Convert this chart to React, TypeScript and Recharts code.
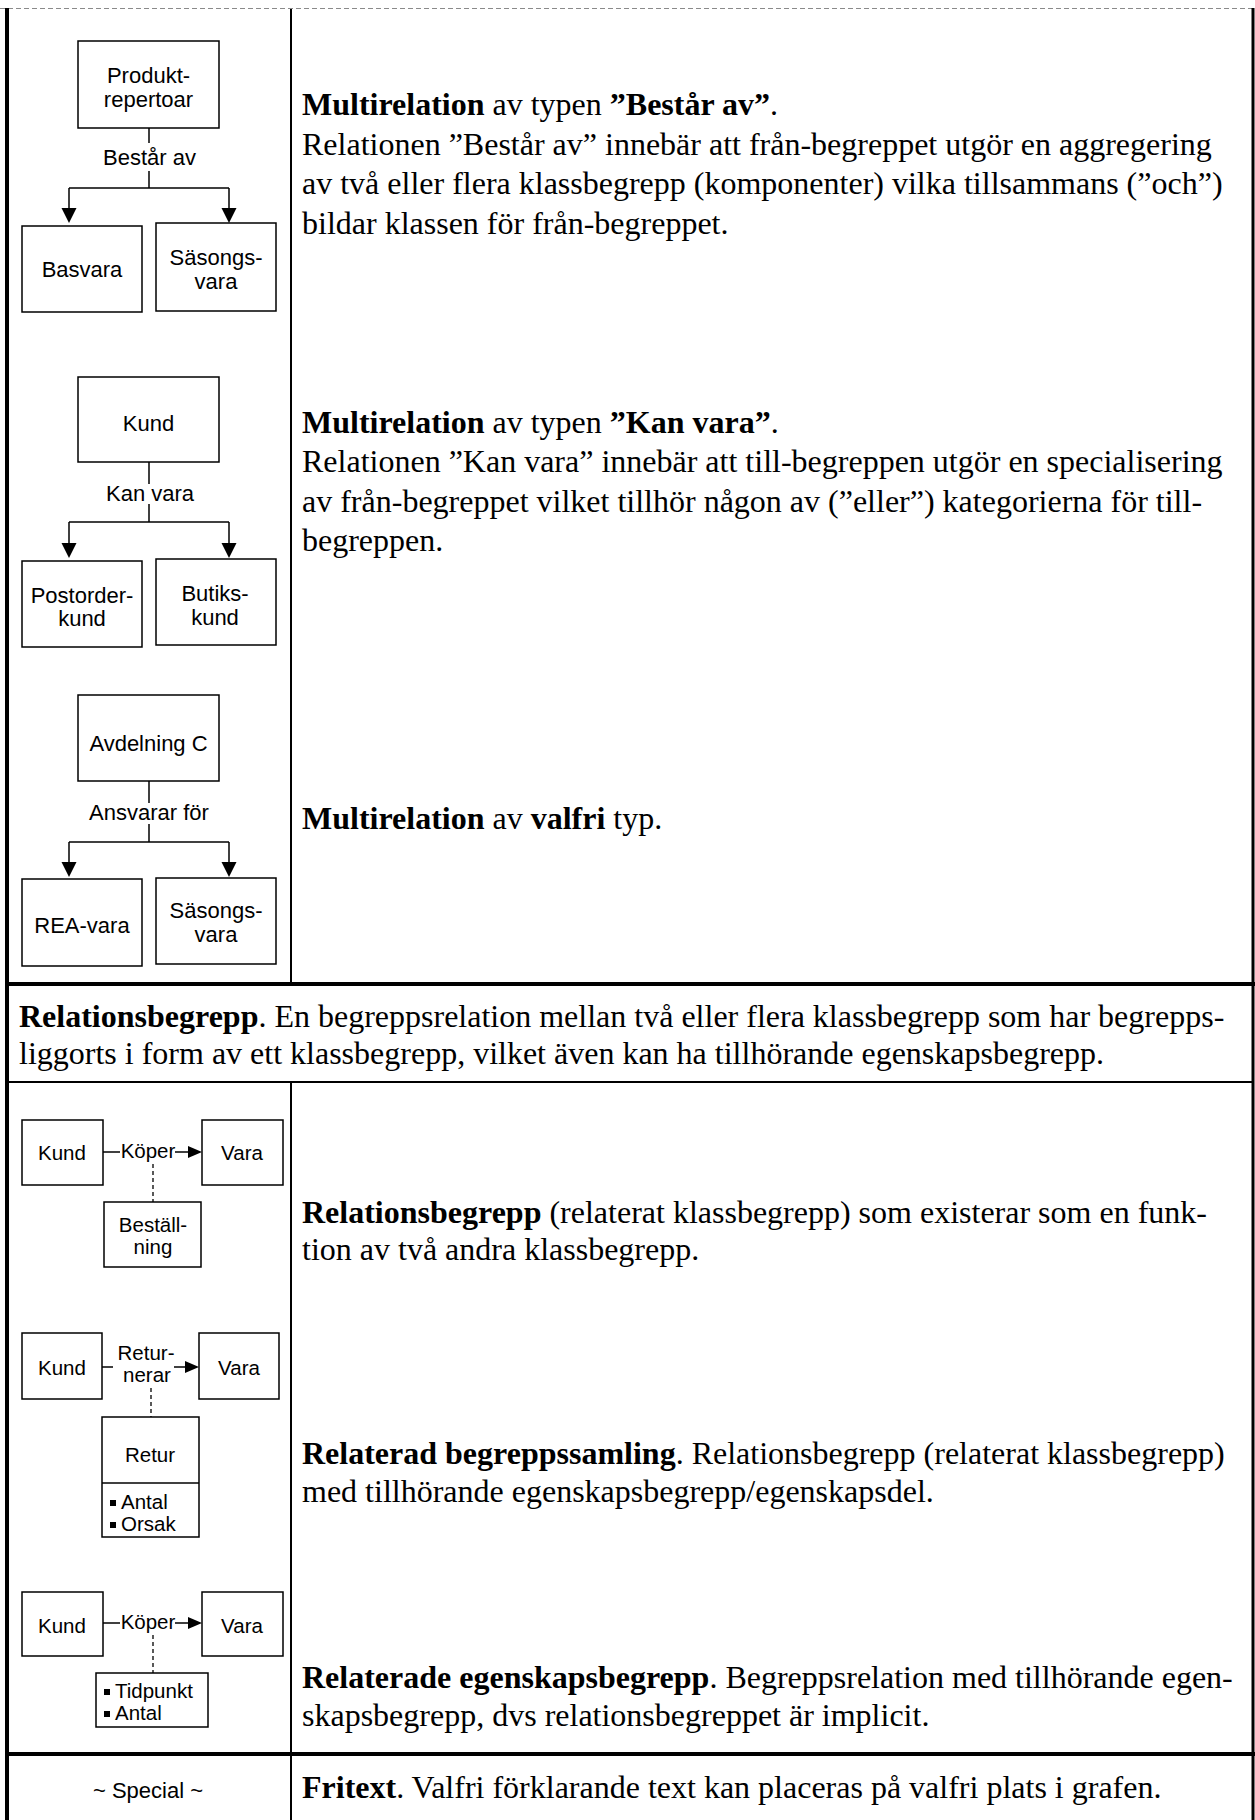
import {
  ComposedChart,
  XAxis,
  YAxis,
  Scatter,
  ReferenceArea,
  ReferenceLine,
} from "recharts";

const W = 1255;
const H = 1820;
const SANS = "'Liberation Sans', Arial, sans-serif";
const SERIF = "'Liberation Serif', 'Times New Roman', serif";

// table rules, page units
const heavyRules = [
  [[7, 8], [7, 1820]],
  [[5, 984], [1255, 984]],
  [[5, 1754], [1255, 1754]],
];
const frameRules = [[[1253, 8], [1253, 1820]]];
const lightRules = [
  [[291, 9], [291, 982]],
  [[291, 1083], [291, 1752]],
  [[291, 1756], [291, 1820]],
  [[9, 1082], [1252, 1082]],
];
const topRule = [[0, 8.5], [1255, 8.5]];

// boxes of the small diagrams
const boxes = [
  { x1: 78, x2: 219, y1: 41, y2: 128 },
  { x1: 22, x2: 142, y1: 226, y2: 312 },
  { x1: 156, x2: 276, y1: 223, y2: 311 },
  { x1: 78, x2: 219, y1: 377, y2: 462 },
  { x1: 22, x2: 142, y1: 561, y2: 647 },
  { x1: 156, x2: 276, y1: 559, y2: 645 },
  { x1: 78, x2: 219, y1: 695, y2: 781 },
  { x1: 22, x2: 142, y1: 879, y2: 966 },
  { x1: 156, x2: 276, y1: 878, y2: 964 },
  { x1: 22, x2: 103, y1: 1120, y2: 1185 },
  { x1: 202, x2: 283, y1: 1120, y2: 1185 },
  { x1: 104, x2: 201, y1: 1202, y2: 1267 },
  { x1: 22, x2: 102, y1: 1333, y2: 1399 },
  { x1: 199, x2: 279, y1: 1333, y2: 1399 },
  { x1: 102, x2: 199, y1: 1417, y2: 1537 },
  { x1: 22, x2: 103, y1: 1592, y2: 1656 },
  { x1: 202, x2: 283, y1: 1592, y2: 1656 },
  { x1: 96, x2: 208, y1: 1673, y2: 1727 },
];

const connectors = [
  [[149, 128], [149, 143]], [[149, 171], [149, 188]], [[69, 188], [229, 188]],
  [[69, 188], [69, 209]], [[229, 188], [229, 209]],
  [[149, 462], [149, 484]], [[149, 504], [149, 522]], [[69, 522], [229, 522]],
  [[69, 522], [69, 544]], [[229, 522], [229, 544]],
  [[149, 781], [149, 803]], [[149, 824], [149, 842]], [[69, 842], [229, 842]],
  [[69, 842], [69, 863]], [[229, 842], [229, 863]],
  [[103, 1152], [120, 1152]], [[175, 1152], [189, 1152]],
  [[102, 1367], [113, 1367]], [[174, 1367], [186, 1367]],
  [[102, 1483], [199, 1483]],
  [[103, 1623], [120, 1623]], [[175, 1623], [189, 1623]],
];

const dashedLinks = [
  [[153, 1164], [153, 1202]],
  [[151, 1388], [151, 1417]],
  [[153, 1635], [153, 1673]],
];

const arrowsDown = [
  { x: 69, y: 223 }, { x: 229, y: 223 },
  { x: 69, y: 558 }, { x: 229, y: 558 },
  { x: 69, y: 877 }, { x: 229, y: 877 },
];
const arrowsRight = [
  { x: 202, y: 1152 },
  { x: 199, y: 1367 },
  { x: 202, y: 1623 },
];

const multiLabels = [
  { x: 148.5, y: 75, text: "Produkt-" },
  { x: 148.5, y: 99, text: "repertoar" },
  { x: 149.5, y: 157, text: "Består av" },
  { x: 82, y: 269, text: "Basvara" },
  { x: 216, y: 257, text: "Säsongs-" },
  { x: 216, y: 281, text: "vara" },
  { x: 148.5, y: 423, text: "Kund" },
  { x: 150, y: 493, text: "Kan vara" },
  { x: 82, y: 595, text: "Postorder-" },
  { x: 82, y: 618, text: "kund" },
  { x: 215, y: 593, text: "Butiks-" },
  { x: 215, y: 617, text: "kund" },
  { x: 148.5, y: 743, text: "Avdelning C" },
  { x: 149, y: 812, text: "Ansvarar för" },
  { x: 82, y: 925, text: "REA-vara" },
  { x: 216, y: 910, text: "Säsongs-" },
  { x: 216, y: 934, text: "vara" },
  { x: 148, y: 1790, text: "~ Special ~" },
];

const relationLabels = [
  { x: 62, y: 1153, text: "Kund" },
  { x: 242, y: 1153, text: "Vara" },
  { x: 148, y: 1151, text: "Köper" },
  { x: 153, y: 1225, text: "Beställ-" },
  { x: 153, y: 1247, text: "ning" },
  { x: 62, y: 1368, text: "Kund" },
  { x: 239, y: 1368, text: "Vara" },
  { x: 146, y: 1353, text: "Retur-" },
  { x: 147, y: 1375, text: "nerar" },
  { x: 150, y: 1455, text: "Retur" },
  { x: 62, y: 1626, text: "Kund" },
  { x: 242, y: 1626, text: "Vara" },
  { x: 148, y: 1622, text: "Köper" },
];

const bulletItems = [
  { x: 110, y: 1502, text: "Antal" },
  { x: 110, y: 1524, text: "Orsak" },
  { x: 104, y: 1691, text: "Tidpunkt" },
  { x: 104, y: 1713, text: "Antal" },
];

// serif text, one entry per line: [text, bold]
const textLines = [
  { x: 302, y: 115, parts: [["Multirelation", true], [" av typen ", false], ["”Består av”", true], [".", false]] },
  { x: 302, y: 154.5, parts: [["Relationen ”Består av” innebär att från-begreppet utgör en aggregering", false]] },
  { x: 302, y: 194, parts: [["av två eller flera klassbegrepp (komponenter) vilka tillsammans (”och”)", false]] },
  { x: 302, y: 233.5, parts: [["bildar klassen för från-begreppet.", false]] },
  { x: 302, y: 432.5, parts: [["Multirelation", true], [" av typen ", false], ["”Kan vara”", true], [".", false]] },
  { x: 302, y: 472, parts: [["Relationen ”Kan vara” innebär att till-begreppen utgör en specialisering", false]] },
  { x: 302, y: 511.5, parts: [["av från-begreppet vilket tillhör någon av (”eller”) kategorierna för till-", false]] },
  { x: 302, y: 551, parts: [["begreppen.", false]] },
  { x: 302, y: 829, parts: [["Multirelation", true], [" av ", false], ["valfri", true], [" typ.", false]] },
  { x: 19, y: 1027, parts: [["Relationsbegrepp", true], [". En begreppsrelation mellan två eller flera klassbegrepp som har begrepps-", false]] },
  { x: 19, y: 1064, parts: [["liggorts i form av ett klassbegrepp, vilket även kan ha tillhörande egenskapsbegrepp.", false]] },
  { x: 302, y: 1223, parts: [["Relationsbegrepp", true], [" (relaterat klassbegrepp) som existerar som en funk-", false]] },
  { x: 302, y: 1260, parts: [["tion av två andra klassbegrepp.", false]] },
  { x: 302, y: 1464, parts: [["Relaterad begreppssamling", true], [". Relationsbegrepp (relaterat klassbegrepp)", false]] },
  { x: 302, y: 1502, parts: [["med tillhörande egenskapsbegrepp/egenskapsdel.", false]] },
  { x: 302, y: 1688, parts: [["Relaterade egenskapsbegrepp", true], [". Begreppsrelation med tillhörande egen-", false]] },
  { x: 302, y: 1726, parts: [["skapsbegrepp, dvs relationsbegreppet är implicit.", false]] },
  { x: 302, y: 1798, parts: [["Fritext", true], [". Valfri förklarande text kan placeras på valfri plats i grafen.", false]] },
];

const seg = (s: number[][]) => [
  { x: s[0][0], y: s[0][1] },
  { x: s[1][0], y: s[1][1] },
];

const sansShape = (size: number) => (p: any) => (
  <text
    x={p.cx}
    y={p.cy + size * 0.35}
    textAnchor="middle"
    fontFamily={SANS}
    fontSize={size}
    fill="#000"
  >
    {p.payload.text}
  </text>
);

const bulletShape = (p: any) => (
  <g>
    <rect x={p.cx} y={p.cy - 2} width={6} height={6} fill="#000" />
    <text x={p.cx + 11} y={p.cy + 7.2} fontFamily={SANS} fontSize={20.5} fill="#000">
      {p.payload.text}
    </text>
  </g>
);

const arrowDownShape = (p: any) => (
  <polygon
    points={`${p.cx - 7.5},${p.cy - 15} ${p.cx + 7.5},${p.cy - 15} ${p.cx},${p.cy}`}
    fill="#000"
  />
);

const arrowRightShape = (p: any) => (
  <polygon
    points={`${p.cx - 14},${p.cy - 6} ${p.cx - 14},${p.cy + 6} ${p.cx},${p.cy}`}
    fill="#000"
  />
);

const serifShape = (p: any) => (
  <text
    x={p.cx}
    y={p.cy}
    fontFamily={SERIF}
    fontSize={32}
    fill="#000"
    style={{ whiteSpace: "pre" }}
  >
    {p.payload.parts.map((part: any, i: number) => (
      <tspan key={i} fontWeight={part[1] ? "bold" : "normal"}>
        {part[0]}
      </tspan>
    ))}
  </text>
);

export default function App() {
  return (
    <div style={{ position: "absolute", left: 0, top: 0, width: W, height: H, background: "#fff" }}>
      <ComposedChart width={W} height={H} margin={{ top: 0, right: 0, bottom: 0, left: 0 }}>
        <XAxis type="number" dataKey="x" domain={[0, W]} allowDataOverflow hide />
        <YAxis type="number" dataKey="y" domain={[0, H]} allowDataOverflow reversed hide />

        {boxes.map((b, i) => (
          <ReferenceArea
            key={`b${i}`}
            x1={b.x1}
            x2={b.x2}
            y1={b.y1}
            y2={b.y2}
            fill="none"
            stroke="#000"
            strokeWidth={1.5}
            ifOverflow="visible"
          />
        ))}

        <ReferenceLine segment={seg(topRule)} stroke="#8a8a8a" strokeWidth={1} strokeDasharray="5 3" ifOverflow="visible" />
        {heavyRules.map((s, i) => (
          <ReferenceLine key={`h${i}`} segment={seg(s)} stroke="#000" strokeWidth={4} ifOverflow="visible" />
        ))}
        {frameRules.map((s, i) => (
          <ReferenceLine key={`f${i}`} segment={seg(s)} stroke="#000" strokeWidth={3} ifOverflow="visible" />
        ))}
        {lightRules.map((s, i) => (
          <ReferenceLine key={`l${i}`} segment={seg(s)} stroke="#000" strokeWidth={2} ifOverflow="visible" />
        ))}
        {connectors.map((s, i) => (
          <ReferenceLine key={`c${i}`} segment={seg(s)} stroke="#000" strokeWidth={1.5} ifOverflow="visible" />
        ))}
        {dashedLinks.map((s, i) => (
          <ReferenceLine key={`d${i}`} segment={seg(s)} stroke="#000" strokeWidth={1.3} strokeDasharray="4 3" ifOverflow="visible" />
        ))}

        <Scatter data={arrowsDown} shape={arrowDownShape} isAnimationActive={false} />
        <Scatter data={arrowsRight} shape={arrowRightShape} isAnimationActive={false} />
        <Scatter data={multiLabels} shape={sansShape(22)} isAnimationActive={false} />
        <Scatter data={relationLabels} shape={sansShape(20.5)} isAnimationActive={false} />
        <Scatter data={bulletItems} shape={bulletShape} isAnimationActive={false} />
        <Scatter data={textLines} shape={serifShape} isAnimationActive={false} />
      </ComposedChart>
    </div>
  );
}
